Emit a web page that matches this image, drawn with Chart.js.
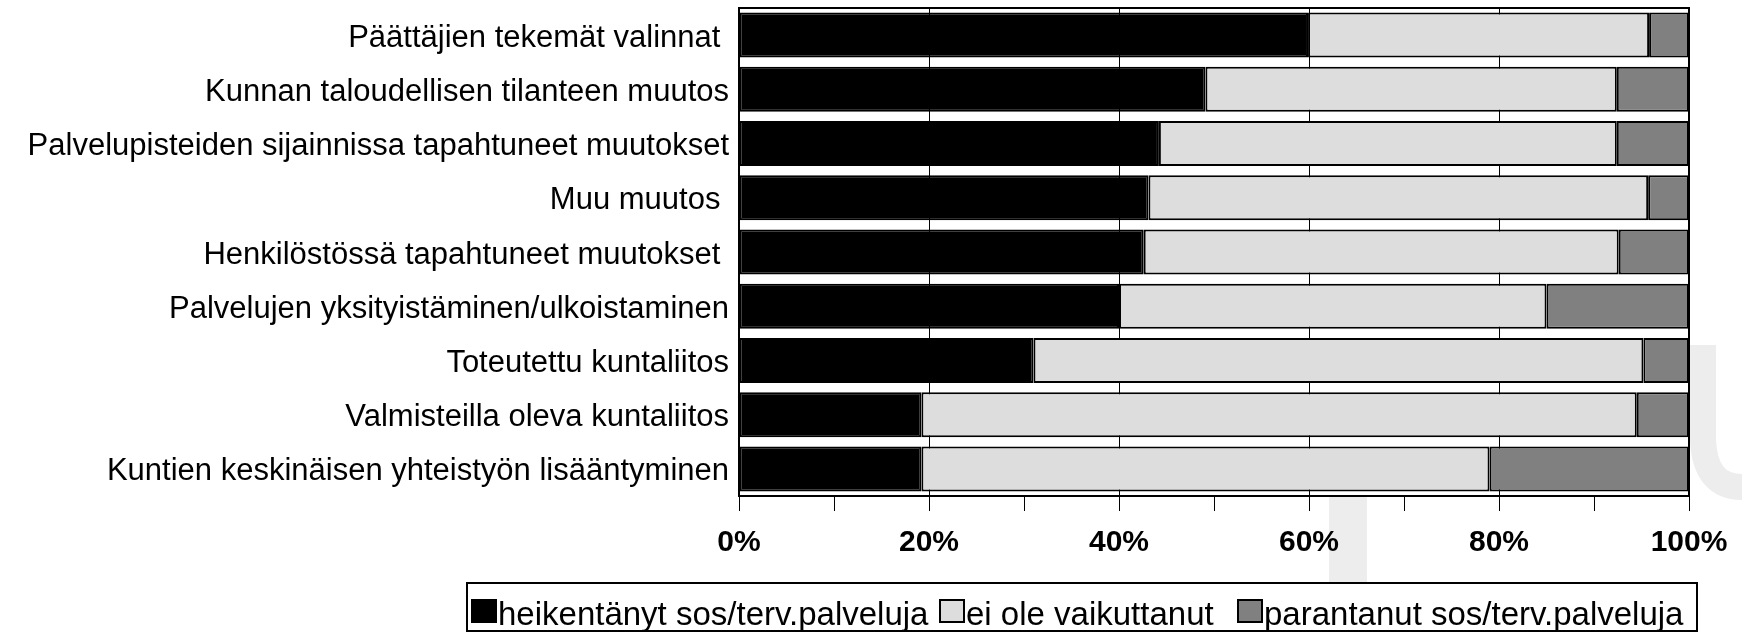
<!DOCTYPE html>
<html>
<head>
<meta charset="utf-8">
<script src="https://cdn.jsdelivr.net/npm/chart.js@4/dist/chart.umd.min.js"></script>
<style>
html,body{margin:0;padding:0;background:#fff;}
#c{display:block;}
</style>
</head>
<body>
<canvas id="c" width="1742" height="632"></canvas>
<script>
const categories = [
  "Päättäjien tekemät valinnat ",
  "Kunnan taloudellisen tilanteen muutos",
  "Palvelupisteiden sijainnissa tapahtuneet muutokset",
  "Muu muutos ",
  "Henkilöstössä tapahtuneet muutokset ",
  "Palvelujen yksityistäminen/ulkoistaminen",
  "Toteutettu kuntaliitos",
  "Valmisteilla oleva kuntaliitos",
  "Kuntien keskinäisen yhteistyön lisääntyminen"
];
const seriesNames = ["heikentänyt sos/terv.palveluja", "ei ole vaikuttanut", "parantanut sos/terv.palveluja"];
const heikentanyt = [59.9, 49.1, 44.2, 43.1, 42.6, 40.0, 31.0, 19.2, 19.2];
const eiVaikuttanut = [35.9, 43.3, 48.2, 52.6, 50.0, 45.0, 64.2, 75.3, 59.8];
const parantanut = [4.2, 7.6, 7.6, 4.3, 7.4, 15.0, 4.8, 5.5, 21.0];
const xTickLabels = ["0%", "20%", "40%", "60%", "80%", "100%"];

const FONT = "'Liberation Sans', Arial, sans-serif";

const frame = {
  id: 'frame',
  beforeDraw(chart) {
    const ctx = chart.ctx;
    ctx.save();
    // faint watermark shapes
    ctx.strokeStyle = '#ededed';
    ctx.lineWidth = 26;
    ctx.lineCap = 'butt';
    ctx.beginPath();
    ctx.moveTo(1703, 345);
    ctx.lineTo(1703, 440);
    ctx.quadraticCurveTo(1705, 487, 1742, 487);
    ctx.stroke();
    ctx.fillStyle = '#ededed';
    ctx.fillRect(1329, 496, 38, 90);
    ctx.restore();
  },
  afterDraw(chart) {
    const ctx = chart.ctx;
    const a = chart.chartArea;
    ctx.save();
    ctx.strokeStyle = '#000';
    ctx.lineWidth = 2;
    ctx.strokeRect(a.left, a.top, a.right - a.left, a.bottom - a.top);
    // legend
    const bx = 467, by = 583, bw = 1230, bh = 48;
    ctx.fillStyle = '#fff';
    ctx.fillRect(bx, by, bw, bh);
    ctx.strokeRect(bx, by, bw, bh);
    ctx.font = "33px " + FONT;
    ctx.textBaseline = 'alphabetic';
    ctx.textAlign = 'left';
    const swatchX = [472, 940, 1238];
    chart.data.datasets.forEach((ds, i) => {
      const x = swatchX[i];
      ctx.fillStyle = ds.backgroundColor;
      ctx.fillRect(x, 600, 24, 22);
      ctx.lineWidth = 2;
      ctx.strokeStyle = '#000';
      ctx.strokeRect(x, 600, 24, 22);
      ctx.fillStyle = '#000';
      ctx.fillText(ds.label, x + 26, 625);
    });
    ctx.restore();
  }
};

new Chart(document.getElementById('c'), {
  type: 'bar',
  data: {
    labels: categories,
    datasets: [
      { label: seriesNames[0], data: heikentanyt, backgroundColor: '#000000' },
      { label: seriesNames[1], data: eiVaikuttanut, backgroundColor: '#dddddd' },
      { label: seriesNames[2], data: parantanut, backgroundColor: '#808080' }
    ].map(d => Object.assign(d, {
      borderColor: '#000', borderWidth: 2, borderSkipped: false,
      categoryPercentage: 1, barPercentage: 0.83
    }))
  },
  options: {
    indexAxis: 'y',
    responsive: false,
    animation: false,
    events: [],
    layout: { padding: { top: 8, right: 53, left: 0, bottom: 0 } },
    plugins: { legend: { display: false }, tooltip: { enabled: false } },
    scales: {
      x: {
        stacked: true,
        min: 0, max: 100,
        afterFit(s) { s.height = 136; s.paddingLeft = 0; s.paddingRight = 0; },
        border: { display: true, color: '#000', width: 2 },
        grid: {
          color: c => (c.tick && c.tick.value % 20 === 0) ? '#000' : 'rgba(0,0,0,0)',
          tickColor: '#000',
          tickLength: 15,
          lineWidth: 1
        },
        ticks: {
          stepSize: 10,
          autoSkip: false,
          maxRotation: 0,
          padding: 14,
          color: '#000',
          font: { family: FONT, size: 30, weight: 'bold' },
          callback: v => (v % 20 === 0) ? xTickLabels[v / 20] : ''
        }
      },
      y: {
        stacked: true,
        afterFit(s) { s.width = 739; s.paddingTop = 0; s.paddingBottom = 0; },
        border: { display: true, color: '#000', width: 2 },
        grid: { display: false, drawTicks: false },
        ticks: {
          padding: 10,
          labelOffset: 3,
          color: '#000',
          font: { family: FONT, size: 31 }
        }
      }
    }
  },
  plugins: [frame]
});
</script>
</body>
</html>
